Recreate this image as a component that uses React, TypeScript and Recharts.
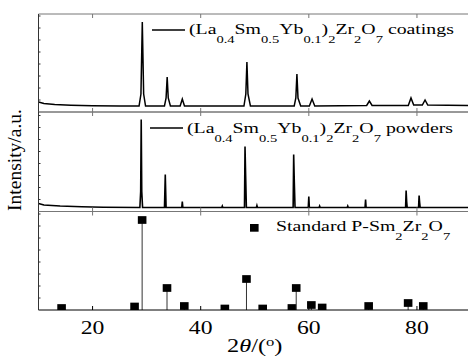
import React from 'react';
import { LineChart, Line, XAxis, YAxis, ComposedChart, Bar, Legend } from 'recharts';

// ---------- data ----------
const X_DOMAIN: [number, number] = [10, 90];
const X_TICKS = [20, 40, 60, 80];

const coatingsTheta = [
  10, 11, 13, 16, 20, 25, 28.6, 28.95, 29.2, 29.45, 29.8,
  33.3, 33.6, 33.8, 34.0, 34.4, 36.2, 36.6, 37.0,
  48.0, 48.35, 48.55, 48.75, 49.2, 57.3, 57.6, 57.8, 58.0, 58.5,
  60.1, 60.6, 61.1, 70.7, 71.2, 71.7, 78.4, 78.9, 79.4, 81.0, 81.5, 82.0, 90,
];
const coatingsIntensity = [
  10, 8.5, 7.5, 6.8, 6.2, 6, 6, 18, 90, 18, 6,
  6, 14, 35, 14, 6, 6, 13, 6,
  6, 18, 50, 18, 6, 6, 14, 38, 14, 6,
  6, 13, 6, 6.5, 11, 6.5, 6.5, 14, 7, 7, 12, 7, 6.5,
];

const powdersTheta = [
  10, 11, 14, 18, 22, 28.75, 28.9, 29.0, 29.1, 29.25,
  33.3, 33.45, 33.6, 36.5, 36.6, 36.7, 43.9, 44.0, 44.1,
  48.1, 48.2, 48.32, 48.45, 50.3, 50.4, 50.5,
  57.1, 57.2, 57.32, 57.45, 59.9, 60.0, 60.1, 61.9, 62.0, 62.1,
  67.1, 67.2, 67.3, 70.4, 70.5, 70.6, 77.9, 78.0, 78.1, 78.2,
  80.3, 80.4, 80.5, 80.6, 90,
];
const powdersIntensity = [
  8, 6.5, 5.5, 4.8, 4.3, 4, 20, 92, 20, 4,
  4, 37, 4, 4, 10, 4, 4, 5.5, 4,
  4, 65, 35, 4, 4, 6, 4,
  4, 57, 29, 4, 4, 15, 4, 4, 5.5, 4,
  4, 5.5, 4, 4, 12, 4, 4, 21, 10, 4,
  4, 16, 9, 4, 4,
];

const standardTheta = [14.3, 27.8, 29.2, 33.8, 37.0, 44.5, 48.5, 51.5, 56.9, 57.7, 60.5, 62.5, 71.1, 78.4, 81.2];
const standardIntensity = [2, 3.5, 90, 22, 4, 1.5, 31, 1.5, 2, 22, 5, 2.5, 4, 7, 4];

const coatingsLabel: [string, boolean][] = [
  ['(La', false], ['0.4', true], ['Sm', false], ['0.5', true], ['Yb', false], ['0.1', true],
  [')', false], ['2', true], ['Zr', false], ['2', true], ['O', false], ['7', true], [' coatings', false],
];
const powdersLabel: [string, boolean][] = [
  ['(La', false], ['0.4', true], ['Sm', false], ['0.5', true], ['Yb', false], ['0.1', true],
  [')', false], ['2', true], ['Zr', false], ['2', true], ['O', false], ['7', true], [' powders', false],
];
const standardLabel: [string, boolean][] = [
  ['Standard P-Sm', false], ['2', true], ['Zr', false], ['2', true], ['O', false], ['7', true],
];

const LEFT_TICKS = [12, 24, 36, 48, 60, 72, 84, 96];

const coatingsData = coatingsTheta.map((t, i) => ({ theta: t, value: coatingsIntensity[i] }));
const powdersData = powdersTheta.map((t, i) => ({ theta: t, value: powdersIntensity[i] }));
const standardData = standardTheta.map((t, i) => ({ theta: t, value: standardIntensity[i] }));

// ---------- styling ----------
const W = 480;
const H = 356;
const FONT = '"Liberation Serif", "Times New Roman", serif';
const FRAME = '#777';
const STRETCH = 1.28;
const LEGEND_STRETCH = 1.32;

const Formula = ({ parts }: { parts: [string, boolean][] }) => (
  <>
    {parts.map(([t, s], i) =>
      s ? (
        <span key={i} style={{ fontSize: 11, position: 'relative', top: 9 }}>{t}</span>
      ) : (
        <span key={i}>{t}</span>
      ),
    )}
  </>
);

const lineLegend = (parts: [string, boolean][]) => () => (
  <div
    style={{
      display: 'flex', alignItems: 'center', fontFamily: FONT, fontSize: 15, lineHeight: '18px',
      whiteSpace: 'nowrap', color: '#000', transform: `scaleX(${LEGEND_STRETCH})`, transformOrigin: 'left center',
    }}
  >
    <svg width={25} height={4} style={{ display: 'block' }}>
      <line x1={0} x2={25} y1={2} y2={2} stroke="#000" strokeWidth={1.5} />
    </svg>
    <span style={{ marginLeft: 3 }}>
      <Formula parts={parts} />
    </span>
  </div>
);

const markerLegend = (parts: [string, boolean][]) => () => (
  <div style={{ display: 'flex', alignItems: 'flex-start', fontFamily: FONT, fontSize: 15, lineHeight: '18px', whiteSpace: 'nowrap', color: '#000' }}>
    <svg width={10} height={18} style={{ display: 'block' }}>
      <rect x={0} y={7} width={8.6} height={7.7} fill="#000" />
    </svg>
    <span style={{ marginLeft: 16, display: 'inline-block', transform: `scaleX(${LEGEND_STRETCH})`, transformOrigin: 'left center' }}>
      <Formula parts={parts} />
    </span>
  </div>
);

const BottomTick = (props: any) => {
  const { x, y, payload } = props;
  return (
    <text
      transform={`translate(${x},${y}) scale(${STRETCH},1)`}
      x={0}
      y={0}
      dy={18}
      textAnchor="middle"
      fontFamily={FONT}
      fontSize={18.5}
      fill="#000"
    >
      {payload.value}
    </text>
  );
};

const XLabel = (props: any) => {
  const vb = props.viewBox || {};
  const cx = (vb.x ?? 38) + (vb.width ?? 433) / 2;
  return (
    <text transform={`translate(${cx},352) scale(${STRETCH},1)`} textAnchor="middle" fontFamily={FONT} fontSize={19} fill="#000">
      2<tspan fontStyle="italic">θ</tspan>/(<tspan fontSize={13} dy={-6}>o</tspan><tspan dy={6}>)</tspan>
    </text>
  );
};

const YLabel = () => (
  <text transform="translate(21,160) rotate(-90)" textAnchor="middle" fontFamily={FONT} fontSize={19.5} fill="#000">
    Intensity/a.u.
  </text>
);

const StemMarker = (props: any) => {
  const { x, y, width, height } = props;
  if (x == null || y == null) return null;
  const cx = x + width / 2;
  const bottom = y + height;
  const top = y - 3.85;
  const rb = Math.min(y + 3.85, bottom);
  return (
    <g>
      <line x1={cx} x2={cx} y1={y} y2={bottom} stroke="#333" strokeWidth={1} />
      <rect x={cx - 4.3} y={top} width={8.6} height={Math.max(0, rb - top)} fill="#000" />
    </g>
  );
};

const empty = () => '';

const layer: React.CSSProperties = { position: 'absolute', left: 0, top: 0 };

// axes have thickness 1 (a 0-sized axis is not drawn), margins are reduced by 1 to compensate
export default function App() {
  return (
    <div style={{ position: 'absolute', left: 0, top: 0, width: 468, height: 356, overflow: 'hidden', background: '#fff' }}>
      {/* Panel 1: coatings */}
      <div style={layer}>
        <LineChart width={W} height={H} data={coatingsData} margin={{ top: 13, right: 9, bottom: H - 112 - 1, left: 37.5 }}>
          <XAxis xAxisId="t" orientation="top" type="number" dataKey="theta" domain={X_DOMAIN} ticks={X_TICKS}
            height={1} tickSize={-4} tickFormatter={empty} stroke={FRAME} allowDataOverflow />
          <XAxis xAxisId="b" orientation="bottom" type="number" dataKey="theta" domain={X_DOMAIN} ticks={X_TICKS}
            height={1} tickSize={-4} tickFormatter={empty} stroke={FRAME} allowDataOverflow />
          <YAxis type="number" domain={[0, 98]} ticks={LEFT_TICKS} width={1} tickSize={-2} tickFormatter={empty} stroke="#333" />
          <Line xAxisId="t" type="linear" dataKey="value" stroke="#000" strokeWidth={1.5} dot={false} isAnimationActive={false} />
          <Legend layout="horizontal" verticalAlign="middle" align="center" content={lineLegend(coatingsLabel)}
            wrapperStyle={{ left: 152, top: 20, width: 'auto', height: 'auto' }} />
        </LineChart>
      </div>

      {/* Panel 2: powders */}
      <div style={layer}>
        <LineChart width={W} height={H} data={powdersData} margin={{ top: 111, right: 9, bottom: H - 211.5 - 1, left: 37.5 }}>
          <XAxis xAxisId="t" orientation="top" type="number" dataKey="theta" domain={X_DOMAIN} ticks={X_TICKS}
            height={1} tickSize={-4} tickFormatter={empty} stroke={FRAME} allowDataOverflow />
          <XAxis xAxisId="b" orientation="bottom" type="number" dataKey="theta" domain={X_DOMAIN} ticks={X_TICKS}
            height={1} tickSize={-4} tickFormatter={empty} stroke={FRAME} allowDataOverflow />
          <YAxis type="number" domain={[0, 99.5]} ticks={LEFT_TICKS} width={1} tickSize={-2} tickFormatter={empty} stroke="#333"
            label={<YLabel />} />
          <Line xAxisId="t" type="linear" dataKey="value" stroke="#000" strokeWidth={1.6} dot={false} isAnimationActive={false} />
          <Legend layout="horizontal" verticalAlign="middle" align="center" content={lineLegend(powdersLabel)}
            wrapperStyle={{ left: 150, top: 118.5, width: 'auto', height: 'auto' }} />
        </LineChart>
      </div>

      {/* Panel 3: standard */}
      <div style={layer}>
        <ComposedChart width={W} height={H} data={standardData} margin={{ top: 210.5, right: 9, bottom: 45, left: 37.5 }}>
          <XAxis xAxisId="t" orientation="top" type="number" dataKey="theta" domain={X_DOMAIN} ticks={X_TICKS}
            height={1} tickSize={-4} tickFormatter={empty} stroke={FRAME} allowDataOverflow />
          <XAxis xAxisId="b" orientation="bottom" type="number" dataKey="theta" domain={X_DOMAIN} ticks={X_TICKS}
            height={1} tickSize={-4} tickMargin={10} tick={<BottomTick />} stroke="#000" allowDataOverflow
            label={<XLabel />} />
          <YAxis type="number" domain={[0, 98.5]} ticks={LEFT_TICKS} width={1} tickSize={-2} tickFormatter={empty} stroke="#333" />
          <Bar xAxisId="b" dataKey="value" barSize={2} shape={<StemMarker />} isAnimationActive={false} />
          <Legend layout="horizontal" verticalAlign="middle" align="center" content={markerLegend(standardLabel)}
            wrapperStyle={{ left: 250, top: 217, width: 'auto', height: 'auto' }} />
        </ComposedChart>
      </div>
    </div>
  );
}
